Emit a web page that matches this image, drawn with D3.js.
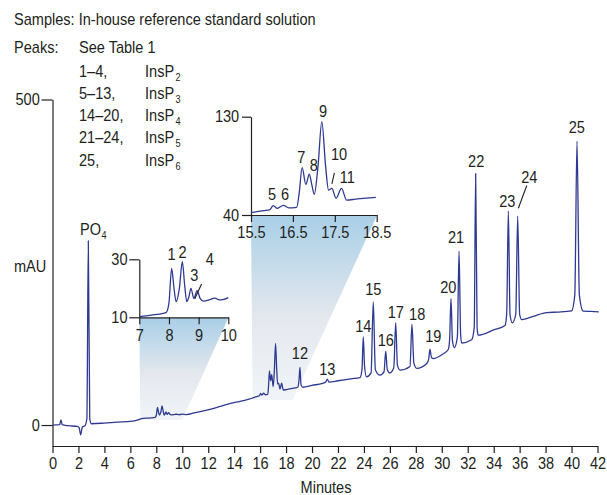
<!DOCTYPE html>
<html>
<head>
<meta charset="utf-8">
<script src="https://cdn.jsdelivr.net/npm/d3@7"></script>
<style>
  body { margin: 0; background: #fff; }
  svg text { font-family: "Liberation Sans", Arial, sans-serif; fill: #231f20; }
  .axis path, .axis line { stroke: #231f20; stroke-width: 1.2; }
  .axis text { font-size: 16px; }
</style>
</head>
<body>
<script>
// chromatogram as [minutes, mAU]
const traceStart = [
  [0, 0], [0.55, 0.5], [0.65, 8], [0.75, 0.5], [1.2, -1], [1.9, -2], [2.05, -4], [2.17, -15],
  [2.3, -3], [2.5, -1], [2.65, 10], [2.76, 282.7], [2.87, 10], [3.0, 2], [4.0, 3], [5.0, 4.5],
  [6.0, 5.5], [6.6, 8], [6.8, 9.5]
];
// 7-10 min (also shown in the small inset)
const insetA = [
  [7.0, 10.2], [7.3, 10.6], [7.6, 11.0], [7.9, 11.6], [8.0, 15], [8.09, 26.9], [8.17, 20],
  [8.24, 15.4], [8.35, 20], [8.45, 29.2], [8.53, 21], [8.6, 15.4], [8.67, 17], [8.74, 20],
  [8.84, 16.5], [8.95, 19.2], [9.05, 16.5], [9.16, 15.6], [9.35, 16], [9.55, 16.6], [9.7, 16],
  [9.85, 16.2], [10.0, 16.8]
];
const traceMid = [
  [10.3, 16], [11.0, 19], [11.9, 23], [13.0, 29], [13.9, 34], [14.6, 37], [15.2, 40]
];
// 15.5-18.5 min (the larger inset)
const insetB = [
  [15.5, 42.1], [15.8, 44], [15.95, 45], [16.03, 48.5], [16.13, 46], [16.27, 48.9], [16.4, 46.5],
  [16.59, 47], [16.65, 60], [16.72, 83.3], [16.81, 68], [16.89, 77.3], [16.95, 68], [17.01, 59],
  [17.1, 85], [17.19, 125.5], [17.28, 85], [17.35, 62.9], [17.43, 64.4], [17.53, 55.3],
  [17.66, 64.4], [17.78, 53.7], [18.0, 54.5], [18.25, 55.5], [18.48, 56.2]
];
const traceEnd = [
  [18.7, 57], [18.9, 58], [19.0, 70], [19.07, 88.5], [19.15, 62], [19.3, 58], [20.0, 61],
  [20.8, 64], [21.05, 66], [21.18, 70.5], [21.3, 66], [22.0, 68], [23.0, 71], [23.7, 73],
  [23.85, 85], [23.95, 135.5], [24.05, 90], [24.2, 74], [24.55, 80], [24.72, 189], [24.88, 85],
  [25.24, 76.7], [25.55, 82], [25.68, 113.5], [25.8, 85], [26.0, 80], [26.3, 88], [26.45, 157],
  [26.58, 92], [26.78, 84.4], [27.55, 90], [27.7, 154.4], [27.85, 95], [28.07, 87], [28.84, 94.6],
  [28.98, 100], [29.09, 116], [29.2, 104], [29.35, 102], [30.0, 108], [30.5, 116], [30.6, 130],
  [30.71, 194.3], [30.82, 130], [30.97, 119], [31.2, 135], [31.33, 266.9], [31.45, 140],
  [31.53, 126], [32.3, 131], [32.5, 150], [32.61, 386], [32.72, 150], [32.8, 138], [34.0, 146],
  [34.87, 153], [35.0, 170], [35.13, 328.7], [35.26, 170], [35.43, 157], [35.7, 170],
  [35.85, 321], [36.0, 170], [36.16, 162], [37.05, 167], [38.08, 172.8], [39.0, 173.5],
  [40.0, 175.3], [40.25, 200], [40.42, 436], [40.6, 200], [40.9, 175], [41.5, 174.5], [42.1, 173.8]
];
const trace = [...traceStart, ...insetA, ...traceMid, ...insetB, ...traceEnd];

// peak labels [minutes, mAU at label baseline, text]
const mainLabels = [
  [19.07, 101, "12"], [21.18, 77, "13"], [23.95, 143, "14"], [24.72, 200, "15"], [25.68, 121, "16"],
  [26.45, 164, "17"], [28.1, 161, "18"], [29.35, 128, "19"], [30.5, 203, "20"], [31.1, 280, "21"],
  [32.65, 396, "22"], [35.05, 335, "23"], [36.75, 371, "24"], [40.4, 448, "25"]
];
const labelsA = [[8.09, 29.6, "1"], [8.46, 30.4, "2"], [8.85, 22.5, "3"], [9.38, 28, "4"]];
const labelsB = [[16.0, 53.5, "5"], [16.31, 53.5, "6"], [16.7, 88, "7"], [17.0, 80, "8"], [17.22, 130, "9"],
  [17.6, 90, "10"], [17.8, 69, "11"]];

const headerLines = ["Samples: In-house reference standard solution"];
const peakGroups = ["1–4,", "5–13,", "14–20,", "21–24,", "25,"];
const groupNames = ["2", "3", "4", "5", "6"];   // InsP subscripts

const xTicks = d3.range(0, 43, 2);
const xTicksA = [7, 8, 9, 10];
const xTicksB = [15.5, 16.5, 17.5, 18.5];

const svg = d3.select('body').append('svg')
    .attr('width', 607)
    .attr('height', 495);

const x = d3.scaleLinear([0, 42], [52.5, 597.5]);
const y = d3.scaleLinear([-32.2, 500], [446, 99.5]);
const xa = d3.scaleLinear([7, 10], [139.3, 228.3]);
const ya = d3.scaleLinear([10, 30], [317.3, 259.3]);
const xb = d3.scaleLinear([15.5, 18.5], [251, 376.7]);
const yb = d3.scaleLinear([40, 130], [215, 116.7]);

// the original type is a condensed face, so glyphs get squeezed sideways
const squeeze = 0.91;
const label = (x0, y0, str, size, anchor) => svg.append('text')
    .attr('transform', `translate(${x0},${y0}) scale(${squeeze},1)`)
    .attr('text-anchor', anchor || 'start')
    .attr('font-size', size)
    .text(str);

// zoom shading
const defs = svg.append('defs');
const grad = defs.append('linearGradient').attr('id', 'shade').attr('x1', 0).attr('y1', 0).attr('x2', 0).attr('y2', 1);
grad.append('stop').attr('offset', 0).attr('stop-color', '#a9cfe7');
grad.append('stop').attr('offset', 0.55).attr('stop-color', '#e4e8ee');
grad.append('stop').attr('offset', 1).attr('stop-color', '#e6edf4').attr('stop-opacity', 0.6);

svg.append('path')
    .attr('d', `M${xa(7)},318 L${xa(10)},318 L${x(10)},420 L${x(7) - 3},420 Z`)
    .attr('fill', 'url(#shade)');
svg.append('path')
    .attr('d', `M${xb(15.5)},216 L${xb(18.5)},216 L${x(18.5)},400 L${x(15.5) - 1},400 Z`)
    .attr('fill', 'url(#shade)');

// axes
const drawAxis = (axis, tx, ty) => svg.append('g').attr('class', 'axis')
    .attr('transform', `translate(${tx},${ty})`)
    .call(axis)
    .call(g => g.selectAll('text').attr('transform', `scale(${squeeze},1)`));

drawAxis(d3.axisBottom(x).tickValues(xTicks).tickSize(7).tickSizeOuter(0).tickPadding(5), 0, 446);
drawAxis(d3.axisLeft(y).tickValues([0, 500]).tickSize(11).tickSizeOuter(0).tickPadding(3), 52.5, 0);

drawAxis(d3.axisBottom(xa).tickValues(xTicksA).tickFormat(d3.format('d')).tickSize(7).tickSizeOuter(0).tickPadding(5), 0, ya(10));
drawAxis(d3.axisLeft(ya).tickValues([10, 30]).tickSize(10).tickSizeOuter(0).tickPadding(3), xa(7), 0);
drawAxis(d3.axisBottom(xb).tickValues(xTicksB).tickSize(7).tickSizeOuter(0).tickPadding(5), 0, yb(40));
drawAxis(d3.axisLeft(yb).tickValues([40, 130]).tickSize(9).tickSizeOuter(0).tickPadding(4), xb(15.5), 0);

// traces
const lineColor = '#2e3a92';
svg.append('path').datum(trace)
    .attr('d', d3.line().x(d => x(d[0])).y(d => y(d[1])).curve(d3.curveMonotoneX))
    .attr('fill', 'none').attr('stroke', lineColor).attr('stroke-width', 1.3);
svg.append('path').datum(insetA)
    .attr('d', d3.line().x(d => xa(d[0])).y(d => ya(d[1])).curve(d3.curveMonotoneX))
    .attr('fill', 'none').attr('stroke', lineColor).attr('stroke-width', 1.3);
svg.append('path').datum(insetB)
    .attr('d', d3.line().x(d => xb(d[0])).y(d => yb(d[1])).curve(d3.curveMonotoneX))
    .attr('fill', 'none').attr('stroke', lineColor).attr('stroke-width', 1.3);

// peak labels
const addLabels = (data, sx, sy) => svg.append('g').selectAll('text')
    .data(data)
    .enter()
    .append('text')
    .attr('transform', d => `translate(${sx(d[0])},${sy(d[1])}) scale(${squeeze},1)`)
    .attr('text-anchor', 'middle')
    .attr('font-size', 16)
    .text(d => d[2]);
addLabels(mainLabels, x, y);
addLabels(labelsA, xa, ya);
addLabels(labelsB, xb, yb);

// leader ticks for 4, 10 and 24
const leaders = [
  [xa(8.87), ya(16.4), xa(9.1), ya(21.5)],
  [xb(17.43), yb(68.5), xb(17.49), yb(78.5)],
  [x(35.9), y(333), x(36.55), y(368)]
];
svg.selectAll('line.leader')
    .data(leaders)
    .enter()
    .append('line')
    .attr('class', 'leader')
    .attr('x1', d => d[0]).attr('y1', d => d[1])
    .attr('x2', d => d[2]).attr('y2', d => d[3])
    .attr('stroke', '#231f20').attr('stroke-width', 1.1);

// PO4
label(80, 235, 'PO', 16);
label(101.5, 239, '4', 10);

// axis titles
label(14, 272, 'mAU', 16);
label(326, 493, 'Minutes', 16, 'middle');

// header
label(14, 25, headerLines[0], 16);
label(14, 53, 'Peaks:', 16);
label(79, 53, 'See Table 1', 16);
peakGroups.forEach((g, i) => {
    const yy = 76.5 + i * 22.3;
    label(79, yy, g, 16);
    label(145, yy, 'InsP', 16);
    label(175.5, yy + 4, groupNames[i], 10);
});
</script>
</body>
</html>
